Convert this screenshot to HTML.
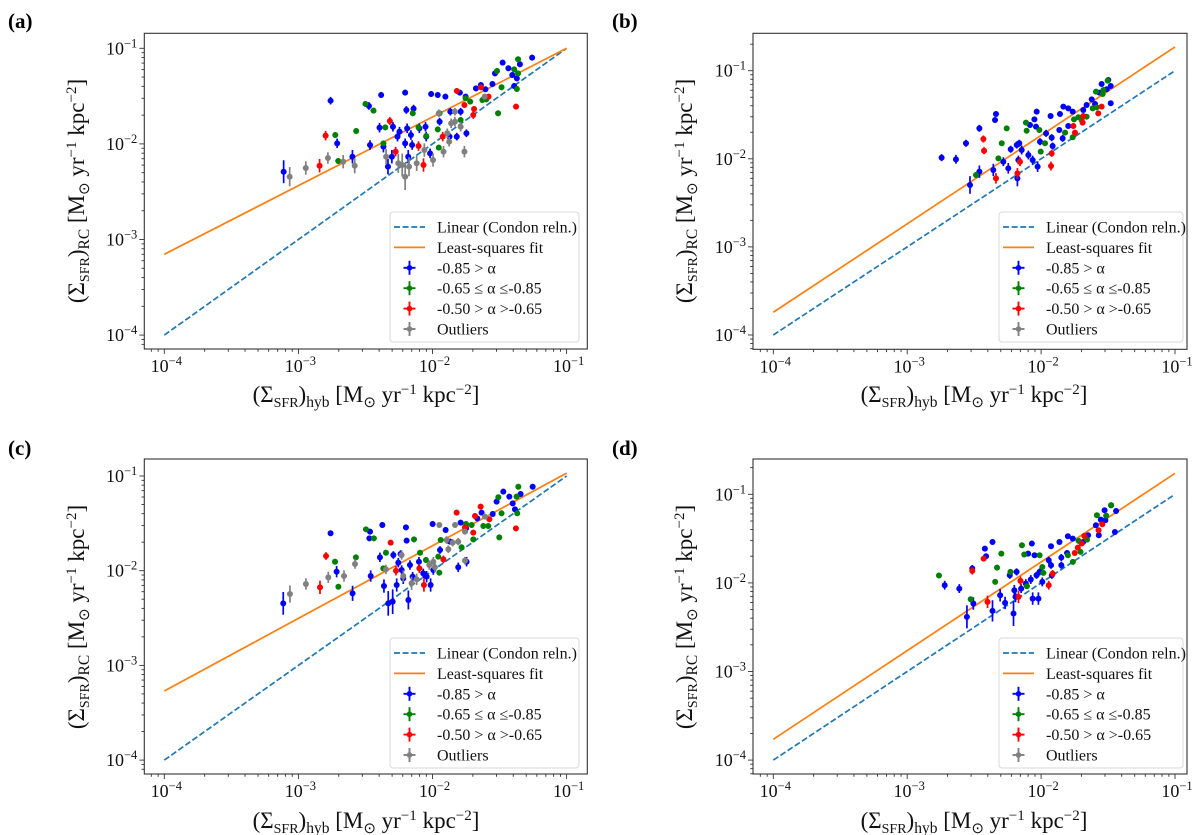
<!DOCTYPE html>
<html><head><meta charset="utf-8"><style>
html,body{margin:0;padding:0;background:#fff;}
svg{display:block;font-family:"Liberation Serif",serif;}
</style></head><body>
<svg id="fig" width="1200" height="835" viewBox="0 0 1200 835" xmlns="http://www.w3.org/2000/svg"></svg>
<script>
// Data: log10 values [log10 x, log10 y, y-error (dex)]
const aBlue = [[-3.110,-2.291,0.12],[-2.760,-1.548,0.04],[-2.711,-1.994,0.05],[-2.597,-2.134,0.07],[-2.474,-1.603,0.04],[-2.466,-2.012,0.05],[-2.383,-1.488,0.03],[-2.395,-1.830,0.05],[-2.366,-2.029,0.06],[-2.332,-2.238,0.08],[-2.303,-2.134,0.07],[-2.295,-1.820,0.05],[-2.261,-1.924,0.05],[-2.246,-1.872,0.05],[-2.204,-1.464,0.03],[-2.195,-1.645,0.04],[-2.204,-1.994,0.05],[-2.189,-1.837,0.05],[-2.181,-2.134,0.07],[-2.161,-1.907,0.05],[-2.152,-2.012,0.05],[-2.141,-1.631,0.04],[-2.098,-1.837,0.05],[-2.052,-1.820,0.05],[-2.047,-1.924,0.05],[-2.018,-2.099,0.05],[-2.010,-1.478,0.03],[-1.961,-1.488,0.03],[-1.947,-1.767,0.04],[-1.904,-1.506,0.03],[-1.873,-1.924,0.04],[-1.867,-1.663,0.04],[-1.819,-1.924,0.04],[-1.796,-1.464,0.03],[-1.790,-1.663,0.04],[-1.747,-1.889,0.04],[-1.753,-1.506,0.03],[-1.676,-1.419,0.03],[-1.639,-1.384,0.03],[-1.605,-1.429,0.03],[-1.553,-1.373,0.03],[-1.534,-1.262,0.03],[-1.477,-1.150,0.03],[-1.434,-1.209,0.03],[-1.405,-1.279,0.03],[-1.391,-1.394,0.03],[-1.371,-1.314,0.03],[-1.348,-1.167,0.03],[-1.257,-1.098,0.03]];
const aGreen = [[-2.725,-1.907,0.03],[-2.703,-2.179,0.03],[-2.569,-1.865,0.03],[-2.500,-1.582,0.03],[-2.440,-1.652,0.03],[-2.366,-1.994,0.03],[-2.352,-1.827,0.03],[-2.147,-1.680,0.03],[-2.104,-1.827,0.03],[-2.047,-1.917,0.03],[-1.961,-1.848,0.03],[-1.953,-2.039,0.03],[-1.947,-1.680,0.03],[-1.790,-1.750,0.03],[-1.753,-1.523,0.03],[-1.719,-1.558,0.03],[-1.628,-1.541,0.03],[-1.599,-1.534,0.03],[-1.519,-1.237,0.03],[-1.485,-1.408,0.03],[-1.511,-1.680,0.03],[-1.391,-1.220,0.03],[-1.362,-1.115,0.03],[-1.371,-1.426,0.03],[-1.362,-1.262,0.03]];
const aRed = [[-2.797,-1.914,0.05],[-2.842,-2.228,0.07],[-2.318,-1.760,0.04],[-2.275,-2.081,0.05],[-2.104,-2.022,0.05],[-2.067,-2.221,0.07],[-1.924,-1.924,0.05],[-1.819,-1.446,0.03],[-1.762,-1.593,0.03],[-1.696,-1.698,0.04],[-1.690,-1.635,0.03],[-1.639,-1.408,0.03],[-1.582,-1.506,0.03],[-1.377,-1.610,0.03]];
const aGray = [[-3.065,-2.343,0.10],[-2.945,-2.252,0.07],[-2.780,-2.148,0.06],[-2.666,-2.186,0.07],[-2.580,-2.228,0.08],[-2.346,-2.134,0.08],[-2.255,-2.203,0.10],[-2.226,-2.221,0.12],[-2.204,-2.343,0.14],[-2.175,-2.238,0.10],[-2.118,-2.203,0.08],[-2.061,-2.064,0.07],[-1.996,-2.168,0.07],[-1.953,-1.680,0.04],[-1.918,-2.081,0.06],[-1.890,-1.889,0.05],[-1.876,-1.977,0.05],[-1.861,-1.785,0.05],[-1.833,-1.663,0.04],[-1.833,-1.767,0.05],[-1.790,-1.820,0.05],[-1.762,-2.081,0.06],[-1.611,-1.506,0.03]];

const bBlue = [[-2.743,-1.987,0.04],[-2.636,-2.006,0.05],[-2.561,-1.824,0.04],[-2.531,-2.297,0.10],[-2.461,-1.654,0.04],[-2.461,-2.146,0.07],[-2.357,-2.127,0.07],[-2.344,-1.559,0.03],[-2.337,-1.491,0.03],[-2.282,-2.033,0.05],[-2.245,-2.108,0.06],[-2.227,-1.892,0.04],[-2.182,-1.843,0.04],[-2.163,-1.824,0.04],[-2.170,-2.014,0.05],[-2.177,-2.222,0.09],[-2.145,-1.900,0.05],[-2.095,-1.957,0.05],[-2.083,-1.616,0.03],[-2.063,-2.014,0.05],[-2.050,-1.552,0.03],[-2.038,-1.635,0.03],[-2.033,-1.465,0.03],[-2.026,-2.089,0.06],[-2.008,-1.806,0.04],[-1.963,-1.711,0.04],[-1.921,-1.760,0.04],[-1.929,-1.514,0.03],[-1.914,-1.855,0.04],[-1.864,-1.673,0.03],[-1.859,-1.491,0.03],[-1.839,-1.768,0.04],[-1.834,-1.408,0.03],[-1.797,-1.427,0.03],[-1.797,-1.628,0.03],[-1.764,-1.465,0.03],[-1.685,-1.446,0.03],[-1.660,-1.389,0.03],[-1.622,-1.325,0.03],[-1.597,-1.378,0.03],[-1.565,-1.249,0.03],[-1.548,-1.151,0.03],[-1.510,-1.211,0.03],[-1.480,-1.370,0.03],[-1.480,-1.174,0.03],[-1.498,-1.106,0.03]];
const bGreen = [[-2.486,-2.184,0.03],[-2.319,-1.995,0.03],[-2.294,-1.824,0.03],[-2.257,-1.654,0.03],[-2.113,-1.590,0.03],[-2.108,-1.681,0.03],[-2.013,-1.673,0.03],[-2.003,-1.919,0.03],[-1.971,-1.824,0.03],[-1.821,-1.703,0.03],[-1.764,-1.756,0.03],[-1.754,-1.552,0.03],[-1.722,-1.529,0.03],[-1.697,-1.559,0.03],[-1.660,-1.522,0.03],[-1.615,-1.427,0.03],[-1.590,-1.238,0.03],[-1.540,-1.264,0.03],[-1.535,-1.219,0.03],[-1.503,-1.113,0.03],[-1.585,-1.416,0.03]];
const bRed = [[-2.431,-1.775,0.04],[-2.426,-1.908,0.04],[-2.337,-2.222,0.06],[-2.177,-2.165,0.06],[-2.158,-2.033,0.05],[-1.921,-1.938,0.04],[-1.926,-2.082,0.05],[-1.759,-1.628,0.03],[-1.747,-1.703,0.03],[-1.690,-1.590,0.03],[-1.685,-1.514,0.03],[-1.573,-1.484,0.03],[-1.548,-1.408,0.03]];
const bGray = [];

const cBlue = [[-3.113,-2.345,0.12],[-2.760,-1.605,0.03],[-2.715,-2.010,0.06],[-2.596,-2.239,0.08],[-2.466,-1.588,0.03],[-2.471,-1.658,0.03],[-2.461,-2.056,0.06],[-2.392,-1.859,0.05],[-2.374,-1.517,0.03],[-2.362,-2.162,0.07],[-2.330,-2.345,0.13],[-2.297,-2.327,0.13],[-2.292,-1.834,0.04],[-2.267,-2.151,0.07],[-2.255,-1.915,0.05],[-2.238,-1.824,0.04],[-2.230,-1.993,0.05],[-2.218,-2.081,0.06],[-2.198,-1.542,0.03],[-2.193,-1.683,0.03],[-2.180,-2.309,0.10],[-2.168,-1.940,0.05],[-2.148,-2.063,0.05],[-2.101,-1.905,0.05],[-2.069,-2.028,0.05],[-2.044,-2.063,0.06],[-2.014,-2.151,0.07],[-1.999,-1.507,0.03],[-1.994,-1.993,0.05],[-1.944,-1.781,0.04],[-1.902,-1.570,0.03],[-1.870,-1.693,0.03],[-1.808,-1.964,0.05],[-1.746,-1.905,0.05],[-1.790,-1.493,0.03],[-1.750,-1.553,0.03],[-1.666,-1.447,0.03],[-1.634,-1.387,0.03],[-1.551,-1.401,0.03],[-1.522,-1.271,0.03],[-1.472,-1.165,0.03],[-1.427,-1.218,0.03],[-1.402,-1.289,0.03],[-1.385,-1.352,0.03],[-1.343,-1.190,0.03],[-1.253,-1.113,0.03]];
const cGreen = [[-2.727,-1.905,0.03],[-2.702,-2.169,0.03],[-2.571,-1.859,0.03],[-2.496,-1.563,0.03],[-2.437,-1.658,0.03],[-2.367,-1.975,0.03],[-2.347,-1.810,0.03],[-2.138,-1.669,0.03],[-2.093,-1.810,0.03],[-2.049,-1.887,0.03],[-1.957,-1.852,0.03],[-1.949,-2.021,0.03],[-1.939,-1.676,0.03],[-1.783,-1.753,0.03],[-1.750,-1.507,0.03],[-1.708,-1.517,0.03],[-1.696,-1.669,0.03],[-1.621,-1.528,0.03],[-1.584,-1.528,0.03],[-1.509,-1.225,0.03],[-1.485,-1.394,0.03],[-1.502,-1.648,0.03],[-1.368,-1.394,0.03],[-1.373,-1.218,0.03],[-1.360,-1.113,0.03]];
const cRed = [[-2.839,-2.176,0.07],[-2.794,-1.845,0.04],[-2.312,-1.704,0.03],[-2.272,-2.000,0.05],[-2.098,-1.975,0.05],[-2.064,-2.151,0.07],[-1.919,-1.880,0.04],[-1.820,-1.387,0.03],[-1.758,-1.542,0.03],[-1.696,-1.598,0.03],[-1.683,-1.422,0.03],[-1.641,-1.324,0.03],[-1.576,-1.457,0.03],[-1.378,-1.553,0.03]];
const cGray = [[-3.063,-2.246,0.09],[-2.944,-2.140,0.06],[-2.777,-2.070,0.06],[-2.660,-2.056,0.06],[-2.578,-1.929,0.05],[-2.347,-1.986,0.05],[-2.230,-1.834,0.05],[-2.218,-2.056,0.06],[-2.156,-2.133,0.07],[-2.118,-2.091,0.06],[-2.024,-1.940,0.05],[-1.994,-1.905,0.05],[-1.982,-1.964,0.05],[-1.949,-1.517,0.03],[-1.895,-1.676,0.04],[-1.882,-1.774,0.04],[-1.850,-1.704,0.04],[-1.832,-1.517,0.03],[-1.808,-1.693,0.04],[-1.758,-1.588,0.03],[-1.758,-1.894,0.04],[-1.609,-1.429,0.03]];

const dBlue = [[-2.720,-2.026,0.05],[-2.611,-2.064,0.05],[-2.514,-1.838,0.04],[-2.506,-2.233,0.07],[-2.554,-2.383,0.13],[-2.420,-1.613,0.03],[-2.411,-1.699,0.03],[-2.363,-1.538,0.03],[-2.363,-2.316,0.12],[-2.306,-2.139,0.07],[-2.269,-2.226,0.07],[-2.234,-1.914,0.04],[-2.206,-2.346,0.14],[-2.200,-2.083,0.06],[-2.183,-1.876,0.04],[-2.191,-2.158,0.06],[-2.149,-2.064,0.05],[-2.114,-2.008,0.05],[-2.097,-1.669,0.03],[-2.077,-1.962,0.05],[-2.069,-1.556,0.03],[-2.063,-2.177,0.07],[-2.049,-1.688,0.03],[-2.020,-2.177,0.07],[-2.034,-1.914,0.04],[-2.011,-1.876,0.04],[-1.991,-1.989,0.05],[-1.943,-1.744,0.04],[-1.926,-1.586,0.03],[-1.926,-1.801,0.04],[-1.920,-1.914,0.04],[-1.863,-1.538,0.03],[-1.849,-1.714,0.04],[-1.849,-1.801,0.04],[-1.806,-1.662,0.03],[-1.800,-1.474,0.03],[-1.763,-1.500,0.03],[-1.686,-1.538,0.03],[-1.649,-1.462,0.03],[-1.591,-1.350,0.03],[-1.569,-1.462,0.03],[-1.554,-1.286,0.03],[-1.526,-1.180,0.03],[-1.520,-1.293,0.03],[-1.477,-1.124,0.03],[-1.440,-1.188,0.03],[-1.449,-1.425,0.03]];
const dGreen = [[-2.763,-1.917,0.03],[-2.526,-2.184,0.03],[-2.343,-1.989,0.03],[-2.329,-1.827,0.03],[-2.297,-1.669,0.03],[-2.229,-1.876,0.03],[-2.143,-1.575,0.03],[-2.126,-1.680,0.03],[-2.106,-2.038,0.03],[-2.011,-1.688,0.03],[-1.991,-1.820,0.03],[-1.983,-1.887,0.03],[-1.800,-1.688,0.03],[-1.763,-1.763,0.03],[-1.720,-1.526,0.03],[-1.706,-1.650,0.03],[-1.657,-1.511,0.03],[-1.583,-1.237,0.03],[-1.514,-1.241,0.03],[-1.477,-1.124,0.03]];
const dRed = [[-2.429,-1.726,0.03],[-2.514,-1.865,0.04],[-2.400,-2.214,0.07],[-2.154,-1.977,0.05],[-2.169,-2.158,0.07],[-1.943,-2.026,0.05],[-1.914,-1.895,0.04],[-1.749,-1.662,0.03],[-1.726,-1.602,0.03],[-1.697,-1.556,0.03],[-1.677,-1.470,0.03],[-1.571,-1.406,0.03],[-1.543,-1.338,0.03]];
const dGray = [];

// Fit lines: log10 y at log10 x = -4 and -1
const aFit = [-3.155, -1.0];
const bFit = [-3.742, -0.73];
const cFit = [-3.270, -0.97];
const dFit = [-3.765, -0.763];
const linearLine = [-4, -1];
const xTickExps = [-4, -3, -2, -1];
const yTickExps = [-4, -3, -2, -1];
const legendLabels = ["Linear (Condon reln.)", "Least-squares fit", "-0.85 > \u03b1", "-0.65 \u2264 \u03b1 \u2264-0.85", "-0.50 > \u03b1 >-0.65", "Outliers"];
const seriesColors = ["#0000ff", "#008000", "#ff0000", "#808080"];
const seriesNames = ["steep", "intermediate", "flat", "outliers"];

const NS = "http://www.w3.org/2000/svg";
const fig = document.getElementById("fig");
function mk(tag, attrs, parent) {
  const e = document.createElementNS(NS, tag);
  for (const k in attrs) e.setAttribute(k, attrs[k]);
  (parent || fig).appendChild(e);
  return e;
}

const panels = [
  {id:"a", left:144.3, right:587.3, top:33.3, bottom:349, x0:164.3, xd:134.1, y0:48.3, yd:95.6, lgL:390, lgR:579, lgT:212, lab:[8,28], ylx:84, yly:191, xlx:366, xly:402, series:[aBlue,aGreen,aRed,aGray], fit:aFit},
  {id:"b", left:753, right:1187, top:33.3, bottom:349.3, x0:773.3, xd:133.9, y0:70.7, yd:88.1, lgL:999, lgR:1183, lgT:212, lab:[612,28], ylx:692, yly:191, xlx:974, xly:402, series:[bBlue,bGreen,bRed,bGray], fit:bFit},
  {id:"c", left:144.3, right:587.3, top:459, bottom:774, x0:164.3, xd:134.1, y0:476, yd:94.7, lgL:390, lgR:579, lgT:638, lab:[8,455], ylx:84, yly:617, xlx:366, xly:828, series:[cBlue,cGreen,cRed,cGray], fit:cFit},
  {id:"d", left:753, right:1187, top:459, bottom:774, x0:773.3, xd:133.9, y0:494.3, yd:88.6, lgL:999, lgR:1183, lgT:638, lab:[612,455], ylx:692, yly:617, xlx:974, xly:828, series:[dBlue,dGreen,dRed,dGray], fit:dFit}
];

function addLabel(parent, x, y, anchor, size, parts, rotate) {
  const t = mk("text", {x:x, y:y, "text-anchor":anchor, "font-size":size, fill:"#111"}, parent);
  if (rotate) t.setAttribute("transform", "rotate(-90 " + x + " " + y + ")");
  parts.forEach(p => {
    const ts = mk("tspan", {}, t);
    ts.textContent = p[0];
    if (p[1]) { ts.setAttribute("dy", p[1]); }
    if (p[2]) { ts.setAttribute("font-size", p[2]); }
  });
  return t;
}

panels.forEach(P => {
  const g = mk("g", {});
  
  
  const X = lv => P.x0 + (lv + 4) * P.xd;
  const Y = lv => P.y0 - (lv + 1) * P.yd;
  const xMinL = -4 + (P.left - P.x0) / P.xd, xMaxL = -4 + (P.right - P.x0) / P.xd;
  const yMaxL = -1 + (P.y0 - P.top) / P.yd, yMinL = -1 - (P.bottom - P.y0) / P.yd;

  const pl = mk("text", {x:P.lab[0], y:P.lab[1], "font-size":21, "font-weight":"bold", fill:"#000"}, g);
  pl.textContent = "(" + P.id + ")";
  
  

  const tg = mk("g", {stroke:"#333", "stroke-width":0.9}, g);
  
  
  for (let dec = -5; dec <= 0; dec++) {
    for (let m = 1; m <= 9; m++) {
      const lv = dec + Math.log10(m);
      const major = m === 1;
      if (lv >= xMinL - 1e-6 && lv <= xMaxL + 1e-6) {
        const x = X(lv);
        mk("line", {x1:x, x2:x, y1:P.bottom, y2:P.bottom + (major ? 5 : 2.8)}, tg);
      }
      if (lv >= yMinL - 1e-6 && lv <= yMaxL + 1e-6) {
        const y = Y(lv);
        mk("line", {x1:P.left, x2:P.left - (major ? 5 : 2.8), y1:y, y2:y}, tg);
      }
    }
  }
  xTickExps.forEach(e => {
    const t = addLabel(g, X(e) + 2, P.bottom + 23, "middle", 18, [["10"], ["\u2212" + (-e), -7, 12.5]]);
    
    
  });
  yTickExps.forEach(e => {
    const t = addLabel(g, P.left - 7, Y(e) + 6, "end", 18, [["10"], ["\u2212" + (-e), -7, 12.5]]);
    
    
  });

  const xt = addLabel(g, P.xlx, P.xly, "middle", 23, [["(\u03a3"], ["SFR", 5, 14], [")", -5], ["hyb", 5, 15.5], [" [M", -5], ["\u2299", 5, 15], [" yr", -5], ["\u22121", -8, 15], [" kpc", 8], ["\u22122", -8, 15], ["]", 8]]);
  
  
  const yt = addLabel(g, P.ylx, P.yly, "middle", 23, [["(\u03a3"], ["SFR", 5, 14], [")", -5], ["RC", 5, 15.5], [" [M", -5], ["\u2299", 5, 15], [" yr", -5], ["\u22121", -8, 15], [" kpc", 8], ["\u22122", -8, 15], ["]", 8]], true);
  
  

  const lin = mk("line", {x1:X(linearLine[0]), y1:Y(linearLine[0]), x2:X(linearLine[1]), y2:Y(linearLine[1]), stroke:"#1f77b4", "stroke-width":1.7, "stroke-dasharray":"6,2.6"}, g);
  
  
  const fit = mk("line", {x1:X(-4), y1:Y(P.fit[0]), x2:X(-1), y2:Y(P.fit[1]), stroke:"#ff7f0e", "stroke-width":1.7}, g);
  
  

  P.series.forEach((arr, si) => {
    const sg = mk("g", {stroke:seriesColors[si], fill:seriesColors[si], "stroke-width":1.7}, g);
    
    
    arr.forEach(p => {
      const cx = X(p[0]), cy = Y(p[1]);
      const pg = mk("g", {}, sg);
      
      
      mk("line", {x1:cx, x2:cx, y1:Y(p[1] + p[2]), y2:Y(p[1] - p[2])}, pg);
      mk("line", {x1:X(p[0] - 0.02), x2:X(p[0] + 0.02), y1:cy, y2:cy}, pg);
      mk("circle", {cx:cx, cy:cy, r:3.0, stroke:"none"}, pg);
    });
  });

  const fr = mk("rect", {x:P.left, y:P.top, width:P.right - P.left, height:P.bottom - P.top, fill:"none", stroke:"#333", "stroke-width":1.1}, g);
  
  

  const lg = mk("g", {}, g);
  
  
  mk("rect", {x:P.lgL, y:P.lgT, width:P.lgR - P.lgL, height:130, rx:3, fill:"#fff", "fill-opacity":0.85, stroke:"#d8d8d8", "stroke-width":1}, lg);
  legendLabels.forEach((lab, i) => {
    const ry = P.lgT + 15 + i * 20.4;
    const hx = P.lgL + 4;
    const eg = mk("g", {}, lg);
    
    
    if (i === 0) mk("line", {x1:hx, x2:hx + 31, y1:ry, y2:ry, stroke:"#1f77b4", "stroke-width":1.7, "stroke-dasharray":"6,2.6"}, eg);
    else if (i === 1) mk("line", {x1:hx, x2:hx + 31, y1:ry, y2:ry, stroke:"#ff7f0e", "stroke-width":1.7}, eg);
    else {
      const c = seriesColors[i - 2], cx = hx + 15.5;
      mk("line", {x1:cx, x2:cx, y1:ry - 7, y2:ry + 7, stroke:c, "stroke-width":1.9}, eg);
      mk("line", {x1:cx - 6, x2:cx + 6, y1:ry, y2:ry, stroke:c, "stroke-width":1.9}, eg);
      mk("circle", {cx:cx, cy:ry, r:2.8, fill:c}, eg);
    }
    const t = mk("text", {x:P.lgL + 47, y:ry + 5.5, "font-size":16, fill:"#111"}, eg);
    t.textContent = lab;
  });
});
</script>
</body></html>
